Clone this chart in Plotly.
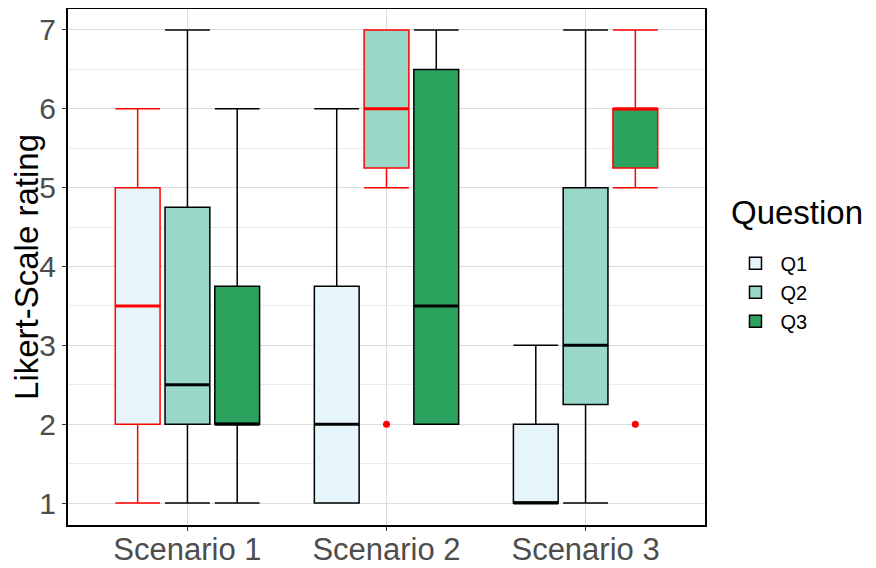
import plotly.graph_objects as go

# Box statistics (Likert 1-7)
scenarios = ["Scenario 1", "Scenario 2", "Scenario 3"]
questions = ["Q1", "Q2", "Q3"]
fills = {"Q1": "#E5F5F9", "Q2": "#99D8C9", "Q3": "#2CA25F"}

# per question: values for Scenario 1, 2, 3
lower = {"Q1": [1, 1, 1], "Q2": [1, 5, 1], "Q3": [1, 2, 5]}
q1 = {"Q1": [2, 1, 1], "Q2": [2, 5.25, 2.25], "Q3": [2, 2, 5.25]}
median = {"Q1": [3.5, 2, 1], "Q2": [2.5, 6, 3], "Q3": [2, 3.5, 6]}
q3 = {"Q1": [5, 3.75, 2], "Q2": [4.75, 7, 5], "Q3": [3.75, 6.5, 6]}
upper = {"Q1": [6, 6, 3], "Q2": [7, 7, 7], "Q3": [6, 7, 7]}
outliers = {"Q1": [[], [], []], "Q2": [[], [2], []], "Q3": [[], [], [2]]}
# boxes drawn with red outline
flagged = {"Q1": [True, False, False], "Q2": [False, True, False], "Q3": [False, False, True]}
legend_from = {"Q1": 1, "Q2": 0, "Q3": 0}

offsets = {"Q1": -0.25, "Q2": 0.0, "Q3": 0.25}
box_w = 0.225

fig = go.Figure()
for k, q in enumerate(questions):
    for i, s in enumerate(scenarios):
        pos = i + 1 + offsets[q]
        col = "red" if flagged[q][i] else "black"
        fig.add_trace(go.Box(
            x=[pos], q1=[q1[q][i]], median=[median[q][i]], q3=[q3[q][i]],
            lowerfence=[lower[q][i]], upperfence=[upper[q][i]],
            width=box_w, whiskerwidth=1, fillcolor=fills[q],
            line=dict(color=col, width=1.5), name=q, legendgroup=q,
            showlegend=(i == legend_from[q]), legendrank=k + 1,
            hoverinfo="skip",
        ))
        # thicker median line like ggplot
        fig.add_trace(go.Scatter(
            x=[pos - box_w / 2, pos + box_w / 2], y=[median[q][i]] * 2,
            mode="lines", line=dict(color=col, width=3),
            showlegend=False, hoverinfo="skip",
        ))
        if outliers[q][i]:
            fig.add_trace(go.Scatter(
                x=[pos] * len(outliers[q][i]), y=outliers[q][i], mode="markers",
                marker=dict(color=col, size=7), showlegend=False, hoverinfo="skip",
            ))

# page body adds an 8px margin, so the figure is a bit smaller than the window
fig.update_layout(
    width=868, height=560,
    margin=dict(l=60, r=171, t=1, b=43),
    plot_bgcolor="white", paper_bgcolor="white",
    font=dict(family="Liberation Sans, Arial, sans-serif", color="black"),
    legend=dict(
        font=dict(size=20), x=1.04, y=0.545, yanchor="top",
        tracegroupgap=0, itemwidth=40,
    ),
    annotations=[dict(
        text="Question", xref="paper", yref="paper", x=1.037, y=0.605,
        xanchor="left", yanchor="middle", showarrow=False,
        font=dict(size=33, color="black"),
    )],
)
fig.update_xaxes(
    range=[0.4, 3.6], tickvals=[1, 2, 3], ticktext=scenarios,
    tickfont=dict(size=31, color="#4D4D4D"), ticklabelstandoff=-8,
    showgrid=True, gridcolor="#DCDCDC", gridwidth=1,
    ticks="outside", ticklen=4, tickcolor="#333333",
    showline=True, linecolor="black", linewidth=2, mirror=True, zeroline=False,
    automargin=False,
)
fig.update_yaxes(
    range=[0.721, 7.266], tickvals=[1, 2, 3, 4, 5, 6, 7],
    tickfont=dict(size=30, color="#4D4D4D"),
    title=dict(text="Likert-Scale rating", font=dict(size=33), standoff=0),
    showgrid=True, gridcolor="#DCDCDC", gridwidth=1,
    minor=dict(dtick=0.5, showgrid=True, gridcolor="#EBEBEB", gridwidth=1),
    ticks="outside", ticklen=4, tickcolor="#333333",
    showline=True, linecolor="black", linewidth=2, mirror=True, zeroline=False,
    automargin=False,
)

fig.write_html("out.html")
